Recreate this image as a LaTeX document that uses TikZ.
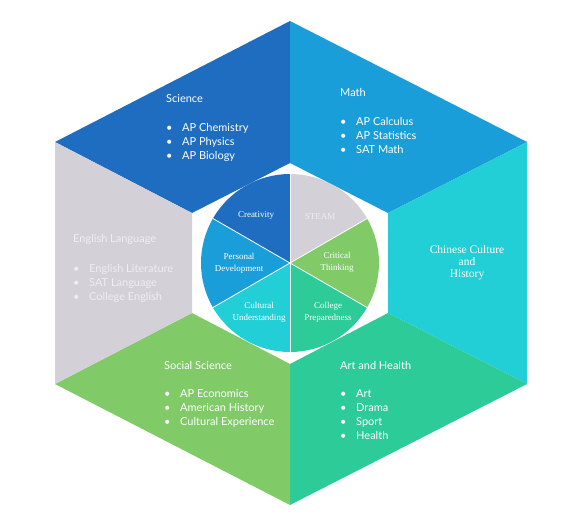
\documentclass[tikz,border=0pt]{standalone}
\usepackage{fontspec}
\setmainfont{Lato}
\newfontfamily\serifcap{Liberation Serif}
\usetikzlibrary{positioning}
\definecolor{SciBlue}{HTML}{1E6DC1}
\definecolor{MathBlue}{HTML}{1A9ED9}
\definecolor{ChiCyan}{HTML}{23CFD6}
\definecolor{ArtGreen}{HTML}{2DCB98}
\definecolor{SocGreen}{HTML}{80CB68}
\definecolor{EngGray}{HTML}{D3D1D7}
\definecolor{PaleText}{HTML}{EEEDF1}
\newcommand{\bul}{\makebox[16pt][l]{\textbullet}}

\begin{document}
\begin{tikzpicture}[x=1pt,y=1pt,
    head/.style={text=white, font=\fontsize{11}{14}\selectfont, inner sep=0pt, anchor=west},
    items/.style={text=white, font=\fontsize{11}{14}\selectfont, align=left, inner sep=0pt, anchor=north west},
    pielabel/.style={text=white, font=\serifcap\fontsize{9}{12}\selectfont, align=center, inner sep=0pt}]
  \useasboundingbox (0,0) rectangle (581,-528);
  % outer and inner hexagon corners
  \coordinate (C) at (290,-263);
  \coordinate (o1) at (290,-21);
  \coordinate (o2) at (527,-142);
  \coordinate (o3) at (527,-384);
  \coordinate (o4) at (290,-505);
  \coordinate (o5) at (55,-384);
  \coordinate (o6) at (55,-142);
  \coordinate (i1) at (290,-163);
  \coordinate (i2) at (388,-213);
  \coordinate (i3) at (388,-313);
  \coordinate (i4) at (290,-364);
  \coordinate (i5) at (192,-313);
  \coordinate (i6) at (192,-213);
  % subject areas
  \fill[SciBlue] (o6) -- (o1) -- (i1) -- (i6) -- cycle;
  \fill[MathBlue] (o1) -- (o2) -- (i2) -- (i1) -- cycle;
  \fill[ChiCyan] (o2) -- (o3) -- (i3) -- (i2) -- cycle;
  \fill[ArtGreen] (o3) -- (o4) -- (i4) -- (i3) -- cycle;
  \fill[SocGreen] (o4) -- (o5) -- (i5) -- (i4) -- cycle;
  \fill[EngGray] (o5) -- (o6) -- (i6) -- (i5) -- cycle;
  % centre pie
  \foreach \a/\c in {90/SciBlue, 30/EngGray, -30/SocGreen, -90/ArtGreen, -150/ChiCyan, 150/MathBlue}
    \fill[\c] (C) -- ++(\a:89) arc[start angle=\a, end angle=\a+60, radius=89] -- cycle;
  \foreach \a in {30,90,...,330}
    \draw[white, line width=0.8pt] (C) -- ++(\a:89);

  \node[head] (sci) at (166,-99) {Science};
  \node[items] (scilist) at (166,-123) {\bul AP Chemistry\\ \bul AP Physics\\ \bul AP Biology};
  \node[head] (math) at (340,-92) {Math};
  \node[items] (mathlist) at (340,-117) {\bul AP Calculus\\ \bul AP Statistics\\ \bul SAT Math};
  \node[head, text=PaleText] (eng) at (73,-239) {English Language};
  \node[items, text=PaleText] (englist) at (73,-264) {\bul English Literature\\ \bul SAT Language\\ \bul College English};
  \node[text=white, font=\serifcap\fontsize{11.5}{12}\selectfont, align=center] (chi) at (467,-263) {Chinese Culture\\ and\\ History};
  \node[head] (soc) at (164,-365) {Social Science};
  \node[items] (soclist) at (164,-389) {\bul AP Economics\\ \bul American History\\ \bul Cultural Experience};
  \node[head] (art) at (340,-365) {Art and Health};
  \node[items] (artlist) at (340,-389) {\bul Art\\ \bul Drama\\ \bul Sport\\ \bul Health};

  \node[pielabel] (cre) at (256,-215) {Creativity};
  \node[pielabel, text=PaleText] (steam) at (320,-217) {STEAM};
  \node[pielabel] (pers) at (239,-263) {Personal\\ Development};
  \node[pielabel] (crit) at (337,-262) {Critical\\ Thinking};
  \node[pielabel] (cult) at (259,-312) {Cultural\\ Understanding};
  \node[pielabel] (coll) at (328,-312) {College\\ Preparedness};
\end{tikzpicture}
\end{document}
